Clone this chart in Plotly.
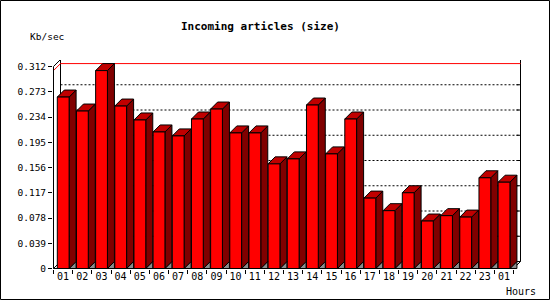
import plotly.graph_objects as go

# ---------------- data ----------------
hours = ["01", "02", "03", "04", "05", "06", "07", "08", "09", "10", "11", "12",
         "13", "14", "15", "16", "17", "18", "19", "20", "21", "22", "23", "01"]
kb_per_sec = [0.2648, 0.2432, 0.3057, 0.2509, 0.2294, 0.2109, 0.2048, 0.2309,
              0.2463, 0.2094, 0.2094, 0.1616, 0.1693, 0.2525, 0.1770, 0.2309,
              0.1087, 0.0893, 0.1170, 0.0733, 0.0816, 0.0794, 0.1401, 0.1333]
y_ticks = [0, 0.039, 0.078, 0.117, 0.156, 0.195, 0.234, 0.273, 0.312]
y_tick_text = ["0", "0.039", "0.078", "0.117", "0.156", "0.195", "0.234", "0.273", "0.312"]
title_text = "Incoming articles (size)"
y_title = "Kb/sec"
x_title = "Hours"

# ---------------- layout geometry ----------------
W, H = 550, 300
ML, MR, MT, MB = 53, 29, 60, 31
PW, PH = W - ML - MR, H - MT - MB          # plot area in px
n = len(hours)
cat_px = (513 - 53) / n                     # px per category (front axis)
ymax_front = y_ticks[-1]
val_per_px = ymax_front / 202.0
# half-pixel shifts so 1px lines fall on pixel centres
XR = [-0.5 - 0.5 / cat_px, -0.5 - 0.5 / cat_px + PW / cat_px]
YR = [-0.5 * val_per_px, -0.5 * val_per_px + PH * val_per_px]
DEPTH = 7
DX = DEPTH / cat_px
DY = DEPTH * val_per_px
BAR_OFF = 3.8 / cat_px
BAR_W = 11.8 / cat_px

FONT = "DejaVu Sans Mono"
RED, DARK, TOPC, GRAY = "#ff0000", "#800000", "#c00000", "#8c8c8c"


def px_x(px):
    return (px - ML) / PW


def px_y(py):
    return (H - MB - py) / PH


def polys(list_of_pts):
    xs, ys = [], []
    for pts in list_of_pts:
        for (a, b) in pts + [pts[0]]:
            xs.append(a)
            ys.append(b)
        xs.append(None)
        ys.append(None)
    return xs, ys


fig = go.Figure()

x0, x1 = -0.5, n - 0.5
# back grid lines (dotted)
for t in y_ticks[1:-1]:
    fig.add_trace(go.Scatter(x=[x0 + DX, x1 + DX], y=[t + DY, t + DY], mode="lines",
                             line=dict(color="black", width=1, dash="2px,2px"),
                             hoverinfo="skip"))
# right side small ticks on back wall
for t in y_ticks[1:-1]:
    fig.add_trace(go.Scatter(x=[x1 + DX - 4 / cat_px, x1 + DX], y=[t + DY, t + DY], mode="lines",
                             line=dict(color="black", width=1), hoverinfo="skip"))

# walls / frame
frame_segments = [
    [(x0 + DX, DY), (x0 + DX, ymax_front + DY)],           # back left vertical
    [(x0 + DX, ymax_front + DY), (x1 + DX, ymax_front + DY)],  # back top
    [(x1 + DX, ymax_front + DY), (x1 + DX, DY)],           # back right vertical
    [(x0 + DX, DY), (x1 + DX, DY)],                        # back bottom
    [(x0, ymax_front), (x0 + DX, ymax_front + DY)],        # top-left diagonal
    [(x0, 0), (x0 + DX, DY)],                              # bottom-left diagonal
    [(x1, 0), (x1 + DX, DY)],                              # bottom-right diagonal
]
for seg in frame_segments:
    fig.add_trace(go.Scatter(x=[p[0] for p in seg], y=[p[1] for p in seg], mode="lines",
                             line=dict(color="black", width=1), hoverinfo="skip"))

# max line (red)
vmax = max(kb_per_sec)
fig.add_trace(go.Scatter(x=[x0, x0 + DX, x1 + DX], y=[vmax, vmax + DY, vmax + DY], mode="lines",
                         line=dict(color="red", width=1), hoverinfo="skip"))

# bars
fronts, sides, tops, floors = [], [], [], []
for i, v in enumerate(kb_per_sec):
    xl = i - 0.5 + BAR_OFF
    xr = xl + BAR_W
    fronts.append([(xl, 0), (xr, 0), (xr, v), (xl, v)])
    tops.append([(xl, v), (xr, v), (xr + DX, v + DY), (xl + DX, v + DY)])
    sides.append([(xr, 0), (xr + DX, DY), (xr + DX, v + DY), (xr, v)])
    floors.append([(xr, 0), (xr + DX, DY), (xr + DX, 0)])

for pts, col in [(floors, GRAY), (sides, DARK), (tops, TOPC), (fronts, RED)]:
    xs, ys = polys(pts)
    fig.add_trace(go.Scatter(x=xs, y=ys, mode="lines", fill="toself", fillcolor=col,
                             line=dict(color="black", width=1), hoverinfo="skip"))

# front axes
fig.add_trace(go.Scatter(x=[x0, x0, x1], y=[ymax_front, 0, 0], mode="lines",
                         line=dict(color="black", width=1), hoverinfo="skip"))

fig.update_layout(
    width=W, height=H,
    margin=dict(l=ML, r=MR, t=MT, b=MB, pad=0),
    paper_bgcolor="white", plot_bgcolor="white",
    showlegend=False,
    font=dict(family=FONT, size=10, color="black"),
    xaxis=dict(range=XR, showgrid=False, zeroline=False, showline=False,
               tickmode="array", tickvals=list(range(n)), ticktext=hours, ticks="",
               tickfont=dict(family=FONT, size=10, color="black"),
               minor=dict(tickmode="array", tickvals=[k - 0.5 for k in range(n + 1)],
                          ticks="outside", ticklen=4, tickcolor="black", tickwidth=1,
                          showgrid=False),
               fixedrange=True),
    yaxis=dict(range=YR, showgrid=False, zeroline=False, showline=False,
               tickmode="array", tickvals=y_ticks, ticktext=y_tick_text,
               ticks="outside", ticklen=4, tickcolor="black", tickwidth=1,
               tickfont=dict(family=FONT, size=9.5, color="black"),
               fixedrange=True),
    annotations=[
        dict(text="<b>" + title_text + "</b>", xref="paper", yref="paper",
             x=px_x(260.5), y=px_y(26.5), xanchor="center", yanchor="middle",
             showarrow=False, font=dict(family=FONT, size=11, color="black")),
        dict(text=y_title, xref="paper", yref="paper", x=px_x(28), y=px_y(36.5),
             xanchor="left", yanchor="middle", showarrow=False,
             font=dict(family=FONT, size=9.5, color="black")),
        dict(text=x_title, xref="paper", yref="paper", x=px_x(504), y=px_y(291.5),
             xanchor="left", yanchor="middle", showarrow=False,
             font=dict(family=FONT, size=10, color="black")),
    ],
    shapes=[dict(type="rect", xref="paper", yref="paper",
                 x0=px_x(0.5), x1=px_x(W - 0.5), y0=px_y(0.5), y1=px_y(H - 0.5),
                 line=dict(color="black", width=1), fillcolor="rgba(0,0,0,0)", layer="above")],
)

fig.write_html("out.html", config={"displayModeBar": False})
